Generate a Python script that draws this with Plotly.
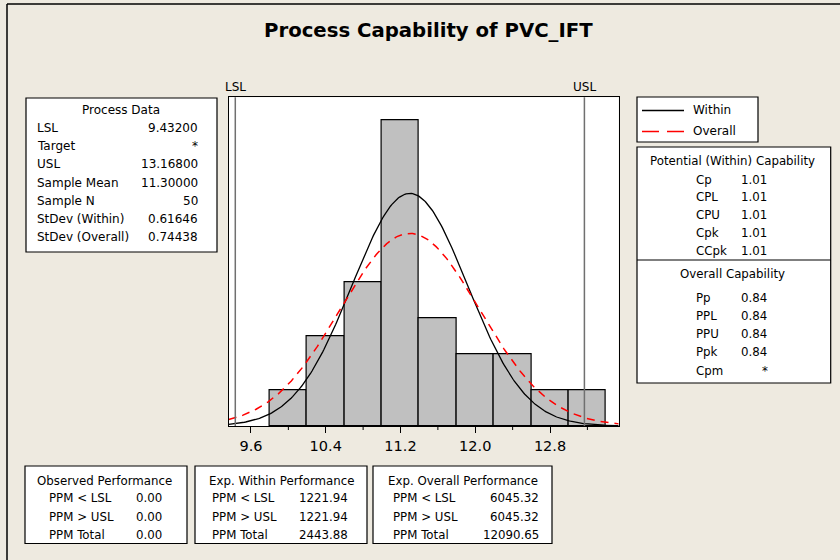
import numpy as np
import plotly.graph_objects as go

# ---- data ----
bin_centers = [10.0, 10.4, 10.8, 11.2, 11.6, 12.0, 12.4, 12.8, 13.2]
bin_counts = [2, 5, 8, 17, 6, 4, 4, 2, 2]
bin_width = 0.4
LSL, USL = 9.432, 13.168
mean = 11.3
sd_within = 0.61646
sd_overall = 0.74438
n = 50
tick_vals = [9.6, 10.4, 11.2, 12.0, 12.8]
tick_text = ["9.6", "10.4", "11.2", "12.0", "12.8"]
minor_ticks = [10.0, 10.8, 11.6, 12.4, 13.2]

process_labels = ["LSL", "Target", "USL", "Sample Mean", "Sample N", "StDev (Within)", "StDev (Overall)"]
process_values = ["9.43200", "*", "13.16800", "11.30000", "50", "0.61646", "0.74438"]
within_labels = ["Cp", "CPL", "CPU", "Cpk", "CCpk"]
within_values = ["1.01", "1.01", "1.01", "1.01", "1.01"]
overall_labels = ["Pp", "PPL", "PPU", "Ppk", "Cpm"]
overall_values = ["0.84", "0.84", "0.84", "0.84", "*"]
perf_labels = ["PPM < LSL", "PPM > USL", "PPM Total"]
obs_values = ["0.00", "0.00", "0.00"]
within_perf = ["1221.94", "1221.94", "2443.88"]
overall_perf = ["6045.32", "6045.32", "12090.65"]

W, H = 840, 560
BG = "#EEEAE0"
FONT = "DejaVu Sans"

def px(x):
    return x / W

def py(y):
    return 1 - y / H

x_lo, x_hi = 9.3615, 13.535
xs = np.linspace(x_lo, x_hi, 300)
scale = n * bin_width
y_within = scale * np.exp(-0.5 * ((xs - mean) / sd_within) ** 2) / (sd_within * np.sqrt(2 * np.pi))
y_overall = scale * np.exp(-0.5 * ((xs - mean) / sd_overall) ** 2) / (sd_overall * np.sqrt(2 * np.pi))

fig = go.Figure()
fig.add_trace(go.Bar(x=bin_centers, y=bin_counts, width=bin_width,
                     marker=dict(color="#C0C0C0", line=dict(color="black", width=1.2)),
                     showlegend=False, hoverinfo="skip"))
fig.add_trace(go.Scatter(x=xs, y=y_within, mode="lines", name="Within",
                         line=dict(color="black", width=1.3), showlegend=False))
fig.add_trace(go.Scatter(x=xs, y=y_overall, mode="lines", name="Overall",
                         line=dict(color="#FF0000", width=1.5, dash="8px,6px"), showlegend=False))

plot_l, plot_r, plot_t, plot_b = 228.7, 618.7, 97.3, 426

shapes = []
annotations = []

# spec limit lines
for v in (LSL, USL):
    shapes.append(dict(type="line", xref="x", yref="paper", x0=v, x1=v,
                       y0=py(plot_b), y1=py(plot_t), line=dict(color="#707070", width=1.5)))
annotations.append(dict(x=LSL, y=py(87), xref="x", yref="paper", text="LSL", showarrow=False,
                        xanchor="center", yanchor="middle", font=dict(family=FONT, size=12, color="black")))
annotations.append(dict(x=USL, y=py(87), xref="x", yref="paper", text="USL", showarrow=False,
                        xanchor="center", yanchor="middle", font=dict(family=FONT, size=12, color="black")))

# outer frame lines
shapes.append(dict(type="line", xref="paper", yref="paper", x0=px(7), x1=1, y0=py(4), y1=py(4),
                   line=dict(color="black", width=1.5)))
shapes.append(dict(type="line", xref="paper", yref="paper", x0=px(7), x1=px(7), y0=py(4), y1=0,
                   line=dict(color="black", width=1.5)))

def box(x0, y0, x1, y1):
    shapes.append(dict(type="rect", xref="paper", yref="paper", x0=px(x0), x1=px(x1),
                       y0=py(y1), y1=py(y0), fillcolor="white", line=dict(color="black", width=1.2),
                       layer="below"))

def text(x, y, s, anchor="left", size=12):
    annotations.append(dict(x=px(x), y=py(y), xref="paper", yref="paper", text=s, showarrow=False,
                            xanchor=anchor, yanchor="middle",
                            font=dict(family=FONT, size=size, color="black")))

# Process data box
box(26, 98, 217, 252)
text(121, 110, "Process Data", "center")
for i, (lab, val) in enumerate(zip(process_labels, process_values)):
    y = 128 + i * 18.2
    text(35, y, lab, "left")
    text(200, y, val, "right")

# Legend box
box(637, 97, 758, 142)
shapes.append(dict(type="line", xref="paper", yref="paper", x0=px(642), x1=px(684), y0=py(110.5), y1=py(110.5),
                   line=dict(color="black", width=1.3)))
shapes.append(dict(type="line", xref="paper", yref="paper", x0=px(642), x1=px(684), y0=py(131.5), y1=py(131.5),
                   line=dict(color="#FF0000", width=1.5, dash="17px,8px")))
text(691, 110.5, "Within", "left")
text(691, 131.5, "Overall", "left")

# Capability box
box(637, 147, 830.7, 383)
shapes.append(dict(type="line", xref="paper", yref="paper", x0=px(637), x1=px(830.7), y0=py(260), y1=py(260),
                   line=dict(color="black", width=1.2)))
text(732, 160.5, "Potential (Within) Capability", "center", 11.8)
for i, (lab, val) in enumerate(zip(within_labels, within_values)):
    y = 179.5 + i * 17.9
    text(694, y, lab, "left", 11.8)
    text(768.5, y, val, "right", 11.8)
text(732, 274, "Overall Capability", "center", 11.8)
for i, (lab, val) in enumerate(zip(overall_labels, overall_values)):
    y = 297.5 + i * 18.3
    text(694, y, lab, "left", 11.8)
    if val == "*":
        text(765, y, val, "center", 11.8)
    else:
        text(769, y, val, "right", 11.8)

# Bottom performance boxes
perf_boxes = [
    (25, 187, "Observed Performance", 35, 47, 163.5, obs_values),
    (195, 367, "Exp. Within Performance", 207, 210, 350, within_perf),
    (373, 552, "Exp. Overall Performance", 386, 391, 541, overall_perf),
]
for (bx0, bx1, title, tx, lx, vx, vals) in perf_boxes:
    box(bx0, 466, bx1, 543.5)
    text(tx, 481, title, "left", 11.8)
    for i, (lab, val) in enumerate(zip(perf_labels, vals)):
        y = 498.5 + i * 18.2
        text(lx, y, lab, "left", 11.8)
        text(vx, y, val, "right", 11.8)

# Title
annotations.append(dict(x=px(428), y=py(30), xref="paper", yref="paper",
                        text="<b>Process Capability of PVC_IFT</b>", showarrow=False,
                        xanchor="center", yanchor="middle",
                        font=dict(family=FONT, size=19.7, color="black")))

# minor ticks via shapes
for v in minor_ticks:
    shapes.append(dict(type="line", xref="x", yref="paper", x0=v, x1=v,
                       y0=py(plot_b), y1=py(plot_b + 4), line=dict(color="black", width=1)))

fig.update_layout(
    width=W, height=H,
    margin=dict(l=0, r=0, t=0, b=0),
    paper_bgcolor=BG, plot_bgcolor="white",
    bargap=0,
    shapes=shapes, annotations=annotations,
    xaxis=dict(domain=[px(plot_l), px(plot_r)], range=[x_lo, x_hi],
               tickvals=tick_vals, ticktext=tick_text, ticks="outside", ticklen=6,
               tickcolor="black", showgrid=False, zeroline=False,
               showline=True, linecolor="black", linewidth=1.2, mirror=True,
               tickfont=dict(family=FONT, size=14.5, color="black")),
    yaxis=dict(domain=[py(plot_b), py(plot_t)], range=[0, 18.29],
               showticklabels=False, ticks="", showgrid=False, zeroline=False,
               showline=True, linecolor="black", linewidth=1.2, mirror=True),
    showlegend=False,
)

fig.write_html("out.html", config={"displayModeBar": False},
               post_script="document.body.style.margin='0px';document.body.style.padding='0px';"
                           "document.body.style.overflow='hidden';document.body.style.background='" + BG + "';")
